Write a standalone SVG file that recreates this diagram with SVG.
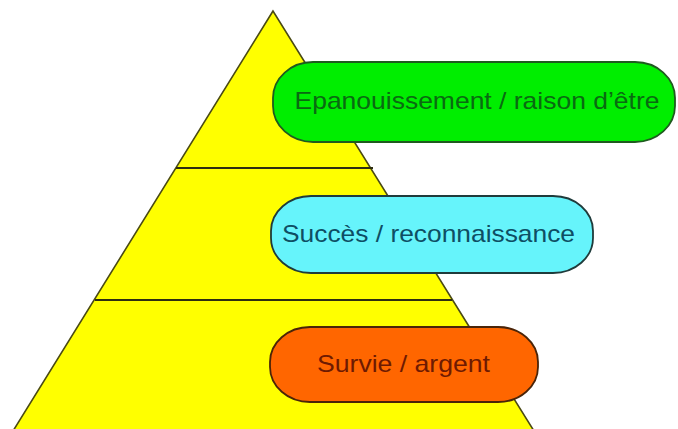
<svg xmlns="http://www.w3.org/2000/svg" width="678" height="429" viewBox="0 0 678 429">
<style>
.tri{fill:#ffff00;stroke:#4a4a14;stroke-width:1.6}
.sep{stroke:#2e2e10;stroke-width:2;fill:none}
.box{stroke-width:1.8}
.lbl{font-family:"Liberation Sans",Arial,sans-serif;font-size:24px;text-anchor:middle}
</style>
<rect width="678" height="429" fill="#ffffff"/>
<g id="pyramid">
<polygon class="tri" points="273,11 13,431 534,431"/>
</g>
<g id="connectors">
<line class="sep" x1="176" y1="168" x2="373" y2="168"/>
<line class="sep" x1="95" y1="300" x2="452" y2="300"/>
</g>
<g id="epanouissement">
<rect class="box" x="273" y="62" width="402" height="80" rx="40" ry="36" fill="#00ee00" stroke="#1f5a1f"/>
<text class="lbl" x="477" y="108.5" textLength="365" lengthAdjust="spacingAndGlyphs" fill="#0a6a12">Epanouissement / raison d’être</text>
</g>
<g id="succes">
<rect class="box" x="271" y="196" width="322" height="77" rx="40" ry="35" fill="#66f4fb" stroke="#1f3b3b"/>
<text class="lbl" x="428.5" y="242" textLength="293" lengthAdjust="spacingAndGlyphs" fill="#0e4e64">Succès / reconnaissance</text>
</g>
<g id="survie">
<rect class="box" x="270" y="327" width="268" height="75" rx="40" ry="35" fill="#ff6600" stroke="#4a2408"/>
<text class="lbl" x="403.5" y="372" textLength="173" lengthAdjust="spacingAndGlyphs" fill="#6e1a02">Survie / argent</text>
</g>
</svg>
